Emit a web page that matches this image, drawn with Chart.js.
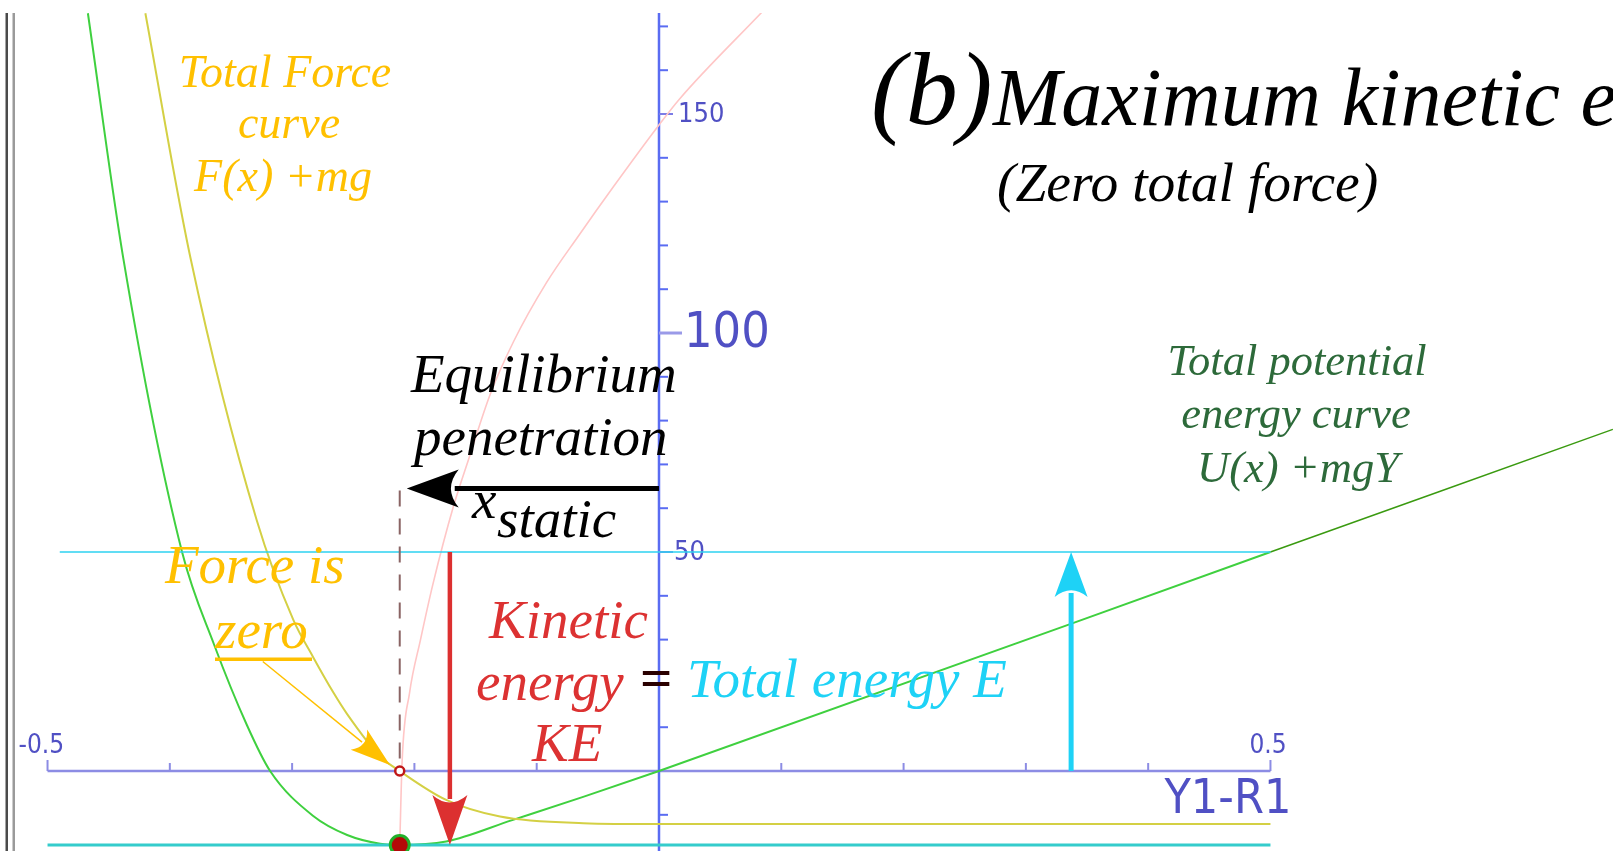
<!DOCTYPE html>
<html>
<head>
<meta charset="utf-8">
<title>(b) Maximum kinetic energy</title>
<script src="https://cdn.jsdelivr.net/npm/chart.js@4.4.1/dist/chart.umd.min.js"></script>
<style>
  html, body { margin: 0; padding: 0; background: #fff; overflow: hidden; }
  #wrap { width: 1613px; height: 851px; }
</style>
</head>
<body>
<div id="wrap"><canvas id="energyChart" width="1613" height="851"></canvas></div>
<script>
// Values. x = penetration (Y1-R1), y = energy / force units
const potentialX = [-0.467, -0.438, -0.390, -0.364, -0.337, -0.318, -0.283, -0.255, -0.228, -0.212, -0.174, -0.120, -0.062, 0, 0.5, 0.78];
const potentialY = [173, 117, 50, 29, 10.5, 0, -10.2, -14.6, -16.6, -16.9, -16.1, -11.2, -5.9, 0, 50, 78];

const forceX = [-0.420, -0.383, -0.329, -0.299, -0.283, -0.266, -0.255, -0.228, -0.212, -0.174, -0.130, -0.062, 0, 0.5];
const forceY = [173, 117, 57.3, 34.5, 26.1, 17.8, 13, 3.3, 0, -6.6, -10.4, -11.9, -12.1, -12.1];

const contactX = [-0.212, -0.210, -0.204, -0.195, -0.185, -0.168, -0.156, -0.138, -0.119, -0.092, -0.065, -0.037, 0, 0.017, 0.085];
const contactY = [-16.9, 2.5, 17.8, 30, 42.5, 60.5, 70.9, 86, 98, 111.5, 122.5, 133.5, 147.5, 153.5, 173.5];

const totalEnergy = 50;      // E
const minPotential = -16.9;  // bottom of the well
const xStatic = -0.212;      // equilibrium penetration
const keArrowX = -0.171;
const energyArrowX = 0.337;
const staticArrowY = 64.5;
const zeroArrow = [[-0.324, 25], [-0.220, 1.4]];

const xTicks = [-0.5, -0.4, -0.3, -0.2, -0.1, 0.1, 0.2, 0.3, 0.4, 0.5];
const xTickLabels = [-0.5, 0.5];
const yMinorTicks = [-10, 10, 20, 30, 40, 60, 70, 80, 90, 110, 120, 130, 140, 160, 170];
const yMajorTicks = [50, 100, 150];

const serif = "'Liberation Serif', 'Times New Roman', serif";
const sans = "'DejaVu Sans Condensed', 'DejaVu Sans', sans-serif";

function pts(xs, ys) { return xs.map((x, i) => ({ x: x, y: ys[i] })); }

function arrow(ctx, x1, y1, x2, y2, color, width, headLen, headHalf) {
  const ang = Math.atan2(y2 - y1, x2 - x1);
  const ux = Math.cos(ang), uy = Math.sin(ang);
  const bx = x2 - ux * headLen, by = y2 - uy * headLen;
  ctx.save();
  ctx.strokeStyle = color;
  ctx.fillStyle = color;
  ctx.lineWidth = width;
  ctx.beginPath();
  ctx.moveTo(x1, y1);
  ctx.lineTo(bx + ux * 4, by + uy * 4);
  ctx.stroke();
  ctx.beginPath();
  ctx.moveTo(x2, y2);
  ctx.lineTo(bx - uy * headHalf, by + ux * headHalf);
  ctx.quadraticCurveTo(bx + ux * headLen * 0.3, by + uy * headLen * 0.3, bx + uy * headHalf, by - ux * headHalf);
  ctx.closePath();
  ctx.fill();
  ctx.restore();
}

function label(ctx, str, x, y, font, color, align) {
  ctx.font = font;
  ctx.fillStyle = color;
  ctx.textAlign = align || "left";
  ctx.textBaseline = "alphabetic";
  ctx.fillText(str, x, y);
}

const sketch = {
  id: "sketch",
  beforeDatasetsDraw(chart) {
    const ctx = chart.ctx;
    const sx = chart.scales.x, sy = chart.scales.y;
    const x0 = sx.getPixelForValue(0), y0 = sy.getPixelForValue(0);
    ctx.save();
    // frame lines on the left
    ctx.fillStyle = "#4a4a4a";
    ctx.fillRect(5.5, 13, 2.5, 851);
    ctx.fillStyle = "#9a9a9a";
    ctx.fillRect(12.5, 13, 2.5, 851);

    // x axis
    ctx.strokeStyle = "#8c8ce4";
    ctx.lineWidth = 2.5;
    ctx.beginPath();
    ctx.moveTo(sx.getPixelForValue(-0.5), y0);
    ctx.lineTo(sx.getPixelForValue(0.5), y0);
    ctx.stroke();
    ctx.lineWidth = 2;
    xTicks.forEach(v => {
      const px = sx.getPixelForValue(v);
      const len = Math.abs(v) === 0.5 ? 11 : 8;
      ctx.beginPath();
      ctx.moveTo(px, y0);
      ctx.lineTo(px, y0 - len);
      ctx.stroke();
    });

    // y axis
    ctx.strokeStyle = "#5a6cf2";
    ctx.lineWidth = 2.5;
    ctx.beginPath();
    ctx.moveTo(x0, chart.chartArea.top);
    ctx.lineTo(x0, chart.chartArea.bottom);
    ctx.stroke();
    ctx.lineWidth = 2;
    yMinorTicks.forEach(v => {
      const py = sy.getPixelForValue(v);
      ctx.beginPath();
      ctx.moveTo(x0, py);
      ctx.lineTo(x0 + 9, py);
      ctx.stroke();
    });
    yMajorTicks.forEach(v => {
      const py = sy.getPixelForValue(v);
      ctx.strokeStyle = v === 100 ? "#9a9ae8" : "#7c7ce6";
      ctx.lineWidth = v === 100 ? 3 : 2;
      ctx.beginPath();
      ctx.moveTo(x0, py);
      ctx.lineTo(x0 + (v === 100 ? 23 : 14), py);
      ctx.stroke();
    });

    // tick labels
    const tc = "#5050c4";
    ctx.textBaseline = "middle";
    ctx.fillStyle = tc;
    ctx.textAlign = "left";
    ctx.font = "27px " + sans;
    ctx.fillText(String(yMajorTicks[2]), x0 + 19, sy.getPixelForValue(150) + 1);
    ctx.fillText(String(yMajorTicks[0]), x0 + 15, sy.getPixelForValue(50) + 1);
    ctx.font = "50px " + sans;
    ctx.fillText(String(yMajorTicks[1]), x0 + 25, sy.getPixelForValue(100) + 1);
    ctx.font = "26px " + sans;
    ctx.fillText(xTickLabels[0].toFixed(1), sx.getPixelForValue(-0.5) - 29, y0 - 25);
    ctx.fillText(xTickLabels[1].toFixed(1), sx.getPixelForValue(0.5) - 21, y0 - 25);
    ctx.font = "48px " + sans;
    ctx.fillText("Y1-R1", sx.getPixelForValue(0.5) - 106, y0 + 30);
    ctx.restore();
  },
  afterDatasetsDraw(chart) {
    const ctx = chart.ctx;
    const sx = chart.scales.x, sy = chart.scales.y;
    const X = v => sx.getPixelForValue(v), Y = v => sy.getPixelForValue(v);
    ctx.save();

    // dashed drop line at x static
    ctx.strokeStyle = "#8a6464";
    ctx.lineWidth = 2;
    ctx.setLineDash([16, 12]);
    ctx.beginPath();
    ctx.moveTo(X(xStatic), Y(staticArrowY) + 2);
    ctx.lineTo(X(xStatic), Y(0));
    ctx.stroke();
    ctx.setLineDash([]);

    // arrows
    arrow(ctx, X(0), Y(staticArrowY), X(xStatic) + 7, Y(staticArrowY), "#000", 5, 52, 19);
    arrow(ctx, X(keArrowX), Y(totalEnergy), X(keArrowX), Y(minPotential), "#dc3030", 4.5, 50, 17.5);
    arrow(ctx, X(energyArrowX), Y(0), X(energyArrowX), Y(totalEnergy), "#1ed2f6", 5, 45, 16.5);
    arrow(ctx, X(zeroArrow[0][0]), Y(zeroArrow[0][1]), X(zeroArrow[1][0]), Y(zeroArrow[1][1]), "#ffc000", 1.5, 40, 13);

    // markers
    ctx.beginPath();
    ctx.arc(X(xStatic), Y(0), 4.5, 0, Math.PI * 2);
    ctx.fillStyle = "#fff";
    ctx.fill();
    ctx.lineWidth = 2.5;
    ctx.strokeStyle = "#c01818";
    ctx.stroke();
    ctx.beginPath();
    ctx.arc(X(xStatic), Y(minPotential), 9.5, 0, Math.PI * 2);
    ctx.fillStyle = "#b40808";
    ctx.fill();
    ctx.lineWidth = 3;
    ctx.strokeStyle = "#22b02a";
    ctx.stroke();

    // texts
    const orange = "#ffc000";
    label(ctx, "Total Force", 285, 87, "italic 46px " + serif, orange, "center");
    label(ctx, "curve", 289, 138, "italic 46px " + serif, orange, "center");
    label(ctx, "F(x) +mg", 283, 191, "italic 46px " + serif, orange, "center");

    label(ctx, "(b)", 871, 124, "italic 104px " + serif, "#000");
    label(ctx, "Maximum kinetic energy", 993, 125, "italic 82px " + serif, "#000");
    label(ctx, "(Zero total force)", 997, 201, "italic 55.5px " + serif, "#000");

    label(ctx, "Equilibrium", 411, 392, "italic 55px " + serif, "#000");
    label(ctx, "penetration", 414, 455, "italic 55px " + serif, "#000");
    label(ctx, "x", 472, 518, "italic 55px " + serif, "#000");
    label(ctx, "static", 497, 537, "italic 55px " + serif, "#000");

    label(ctx, "Force is", 165, 583, "italic 55px " + serif, orange);
    label(ctx, "zero", 215, 648, "italic 55px " + serif, orange);
    ctx.fillStyle = orange;
    ctx.fillRect(215, 657.5, 97, 3.5);

    const red = "#dc3232";
    label(ctx, "Kinetic", 489, 638, "italic 55px " + serif, red);
    label(ctx, "energy", 476, 700, "italic 55px " + serif, red);
    label(ctx, "KE", 532, 761, "italic 55px " + serif, red);
    label(ctx, "=", 640, 697, "bold 57px " + serif, "#2a0000");
    label(ctx, "Total energy E", 687, 697, "italic 55px " + serif, "#1ed2f6");

    const dkgreen = "#2d6a3a";
    label(ctx, "Total potential", 1297, 375, "italic 44.5px " + serif, dkgreen, "center");
    label(ctx, "energy curve", 1296, 428, "italic 44.5px " + serif, dkgreen, "center");
    label(ctx, "U(x) +mgY", 1298, 482, "italic 44.5px " + serif, dkgreen, "center");
    ctx.restore();
  }
};

const line = (data, color, width, extra) => Object.assign({
  data: data,
  showLine: true,
  borderColor: color,
  borderWidth: width,
  pointRadius: 0,
  fill: false,
  cubicInterpolationMode: "monotone"
}, extra || {});

new Chart(document.getElementById("energyChart"), {
  type: "scatter",
  data: {
    datasets: [
      line(pts([-0.49, 0.5], [totalEnergy, totalEnergy]), "#2cd2f0", 1.5),
      line(pts([-0.5, 0.5], [minPotential, minPotential]), "#35cccc", 3),
      line(pts(contactX, contactY), "#ffc6c6", 1.6),
      line(pts(forceX, forceY), "#d4d044", 2),
      line(pts(potentialX, potentialY), "#3fd03f", 2, {
        segment: {
          borderColor: c => c.p0.parsed.x >= 0.5 ? "#3a9a10" : "#3fd03f",
          borderWidth: c => c.p0.parsed.x >= 0.5 ? 1.5 : 2
        }
      })
    ]
  },
  options: {
    responsive: false,
    animation: false,
    layout: { padding: { left: 15, top: 13, right: 0, bottom: 0 } },
    plugins: { legend: { display: false }, tooltip: { enabled: false } },
    scales: {
      x: { type: "linear", min: -0.5266, max: 0.7801, display: false },
      y: { type: "linear", min: -18.26, max: 173.06, display: false }
    }
  },
  plugins: [sketch]
});
</script>
</body>
</html>
